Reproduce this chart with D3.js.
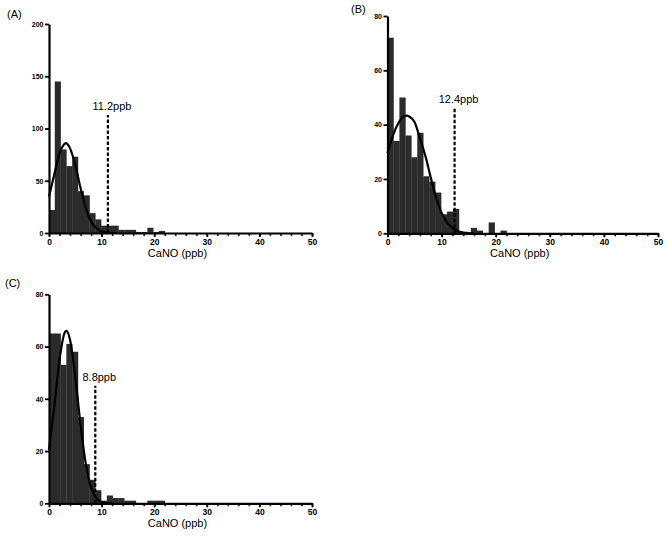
<!DOCTYPE html>
<html>
<head>
<meta charset="utf-8">
<script src="https://cdn.jsdelivr.net/npm/d3@7"></script>
<style>
  html, body { margin: 0; padding: 0; background: #fff; }
  svg { display: block; font-family: "Liberation Sans", Arial, sans-serif; }
</style>
</head>
<body>
<svg id="chart" width="669" height="543"></svg>
<script>
// ---------------- data ----------------
const panelLabels = ["(A)", "(B)", "(C)"];
const xTitle = "CaNO (ppb)";
const xTicks = [0, 10, 20, 30, 40, 50];
const xMinorTicks = d3.range(0, 51, 2);
const yTicksA = [0, 50, 100, 150, 200];
const yTicksB = [0, 20, 40, 60, 80];
const yTicksC = [0, 20, 40, 60, 80];
const binWidth = 1.1;
const countsA = [22, 145, 80, 64, 73, 40, 36, 19, 13, 7, 7, 7, 3, 3, 3, 1, 1, 5, 1, 2];
const countsB = [72, 34, 50, 36, 28, 37, 21, 19, 15, 7, 8, 9, 0, 0, 2, 1, 0, 4, 0, 1];
const countsC = [65, 65, 53, 61, 58, 33, 15, 9, 5, 1, 3, 2, 2, 1, 1, 0, 0, 1, 1, 1];
const fitXA = [0, 1, 2, 3, 3.2, 4, 5, 6, 7, 8, 9, 10, 11, 12, 13];
const fitYA = [35, 56, 76, 85.5, 86, 81, 65, 43, 24, 11, 4.5, 1.5, 0.4, 0.1, 0];
const fitXB = [0, 1, 2, 3, 3.6, 4, 5, 6, 7, 8, 9, 10, 11, 12, 13, 14, 15, 16];
const fitYB = [29.5, 36, 40.5, 43, 43.3, 43, 41, 35, 28.5, 20.5, 13, 7.5, 4, 2, 0.8, 0.3, 0.1, 0];
const fitXC = [0, 1, 2, 3, 3.3, 4, 5, 6, 7, 8, 9, 10, 11, 12];
const fitYC = [20.4, 37, 55, 65.4, 66, 62.6, 48.3, 30, 15, 6, 2, 0.5, 0.1, 0];
const cutoffs = [11.2, 12.4, 8.8];
const cutoffLabels = ["11.2ppb", "12.4ppb", "8.8ppb"];
const cutoffTops = [113, 46, 45];

// ---------------- layout ----------------
const panels = [
  { label: panelLabels[0], lx: 7, ly: 18, x0: 49, x1: 312, yb: 233, yt: 24, yMax: 200, yTicks: yTicksA,
    counts: countsA, fx: fitXA, fy: fitYA, cut: cutoffs[0], cutLabel: cutoffLabels[0], cutTop: cutoffTops[0] },
  { label: panelLabels[1], lx: 351, ly: 13, x0: 387.5, x1: 658, yb: 233.3, yt: 16, yMax: 80, yTicks: yTicksB,
    counts: countsB, fx: fitXB, fy: fitYB, cut: cutoffs[1], cutLabel: cutoffLabels[1], cutTop: cutoffTops[1] },
  { label: panelLabels[2], lx: 5, ly: 287, x0: 49, x1: 312, yb: 503.3, yt: 294.3, yMax: 80, yTicks: yTicksC,
    counts: countsC, fx: fitXC, fy: fitYC, cut: cutoffs[2], cutLabel: cutoffLabels[2], cutTop: cutoffTops[2] }
];

const svg = d3.select("#chart");
const barColor = "#2b2b2b";

panels.forEach(p => {
  const x = d3.scaleLinear().domain([0, 50]).range([p.x0, p.x1]);
  const y = d3.scaleLinear().domain([0, p.yMax]).range([p.yb, p.yt]);
  const g = svg.append("g");

  // bars
  g.append("g").selectAll("rect").data(p.counts).join("rect")
    .attr("x", (d, i) => x(i * binWidth))
    .attr("width", (d, i) => x((i + 1) * binWidth) - x(i * binWidth) + 0.3)
    .attr("y", d => y(d))
    .attr("height", d => y(0) - y(d))
    .attr("fill", barColor);

  // fitted curve
  const pts = p.fx.map((v, i) => [v, p.fy[i]]);
  g.append("path").datum(pts)
    .attr("fill", "none").attr("stroke", "#000").attr("stroke-width", 2.2)
    .attr("d", d3.line().x(d => x(d[0])).y(d => y(d[1])).curve(d3.curveMonotoneX));

  // cutoff dashed line
  g.append("line")
    .attr("x1", x(p.cut)).attr("x2", x(p.cut))
    .attr("y1", y(0)).attr("y2", y(p.cutTop))
    .attr("stroke", "#000").attr("stroke-width", 2.2).attr("stroke-dasharray", "3.5,2");
  g.append("text")
    .attr("x", x(p.cut) + 4).attr("y", y(p.cutTop) - 5)
    .attr("text-anchor", "middle").attr("font-size", 11).attr("fill", "#000")
    .text(p.cutLabel);

  // axes
  const yAxis = g.append("g").attr("transform", `translate(${p.x0},0)`)
    .call(d3.axisLeft(y).tickValues(p.yTicks).tickSize(4).tickSizeOuter(0).tickPadding(1.5).tickFormat(d3.format("d")));
  yAxis.select(".domain").attr("stroke-width", 2.2);
  yAxis.selectAll(".tick line").attr("stroke-width", 1.8);
  yAxis.selectAll(".tick text").attr("font-size", 7).attr("font-weight", "bold")
    .attr("font-family", "'Liberation Sans', Arial, sans-serif");

  const xMinor = g.append("g").attr("transform", `translate(0,${p.yb})`)
    .call(d3.axisBottom(x).tickValues(xMinorTicks).tickSize(3).tickSizeOuter(0).tickFormat(""));
  xMinor.select(".domain").remove();
  xMinor.selectAll(".tick line").attr("stroke-width", 1.5);

  const xAxis = g.append("g").attr("transform", `translate(0,${p.yb})`)
    .call(d3.axisBottom(x).tickValues(xTicks).tickSize(4).tickSizeOuter(0).tickPadding(1.5).tickFormat(d3.format("d")));
  xAxis.select(".domain").attr("stroke-width", 2.2);
  xAxis.selectAll(".tick line").attr("stroke-width", 1.8);
  xAxis.selectAll(".tick text").attr("font-size", 8.5).attr("font-weight", "bold")
    .attr("font-family", "'Liberation Sans', Arial, sans-serif");

  // axis title
  g.append("text")
    .attr("x", (p.x0 + p.x1) / 2 - 3).attr("y", p.yb + 24)
    .attr("text-anchor", "middle").attr("font-size", 11).attr("fill", "#000")
    .text(xTitle);

  // panel letter
  g.append("text").attr("x", p.lx).attr("y", p.ly)
    .attr("font-size", 11).attr("fill", "#000").text(p.label);
});
</script>
</body>
</html>
